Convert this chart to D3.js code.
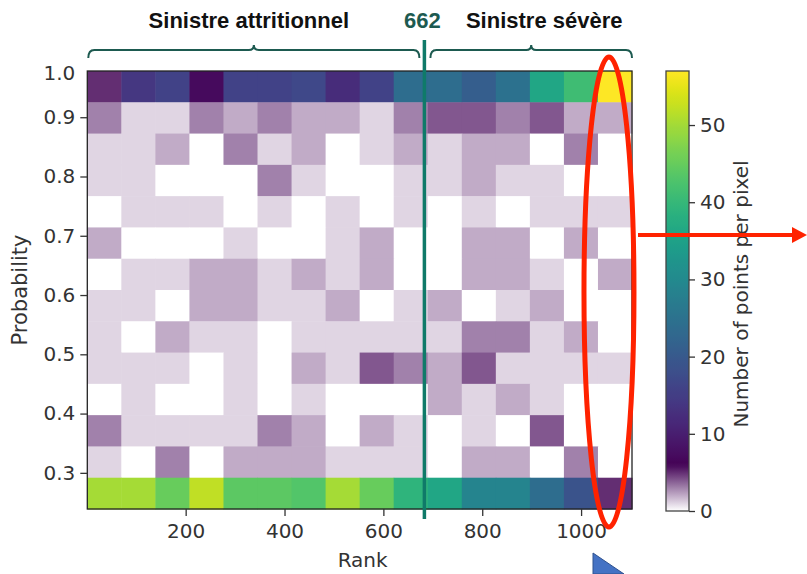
<!DOCTYPE html>
<html>
<head>
<meta charset="utf-8">
<script src="https://cdn.jsdelivr.net/npm/d3@7"></script>
<style>
	html, body { margin: 0; padding: 0; background: #fff; }
	svg { display: block; }
	.tick text { font-family: "DejaVu Sans", sans-serif; }
</style>
</head>
<body>
<div id="chart"></div>
<script>
"use strict";

// 2d histogram: rank (x) vs probability (y), 16 x 14 bins
const rankDomain = [1, 1103];
const probDomain = [0.239, 0.978];
const rankTicks = [200, 400, 600, 800, 1000];
const probTicks = [0.3, 0.4, 0.5, 0.6, 0.7, 0.8, 0.9];
const colorTicks = [0, 10, 20, 30, 40, 50];
const colorMax = 57;

// counts per bin, top row (high probability) first
const counts = [
	[5, 14, 16, 7, 16, 16, 17, 12, 16, 24, 24, 21, 25, 36, 41, 57],
	[3, 1, 1, 3, 2, 3, 2, 2, 1, 3, 4, 4, 3, 4, 2, 2],
	[1, 1, 2, 0, 3, 1, 2, 0, 1, 2, 1, 2, 2, 0, 3, 0],
	[1, 1, 0, 0, 0, 3, 1, 0, 0, 1, 1, 2, 1, 1, 0, 0],
	[0, 1, 1, 1, 0, 1, 0, 1, 0, 1, 0, 1, 0, 1, 1, 1],
	[2, 0, 0, 0, 1, 0, 0, 1, 2, 0, 0, 2, 2, 0, 2, 0],
	[0, 1, 1, 2, 2, 1, 2, 1, 2, 0, 0, 2, 2, 1, 0, 2],
	[1, 1, 0, 2, 2, 1, 1, 2, 0, 1, 2, 0, 1, 2, 0, 0],
	[1, 0, 2, 1, 1, 0, 1, 1, 1, 1, 1, 3, 3, 1, 2, 0],
	[1, 1, 1, 0, 1, 0, 2, 1, 4, 3, 2, 4, 1, 1, 1, 1],
	[0, 1, 0, 0, 1, 0, 1, 0, 0, 0, 2, 1, 2, 1, 0, 0],
	[3, 1, 1, 1, 1, 3, 2, 0, 2, 1, 0, 1, 0, 4, 0, 0],
	[1, 0, 3, 0, 2, 2, 2, 1, 1, 1, 0, 2, 2, 0, 3, 0],
	[50, 50, 45, 52, 44, 44, 43, 50, 45, 39, 36, 29, 29, 24, 19, 5]
];

// annotation on top
const splitRank = 683;
const splitLabel = "662";
const groupLabels = ["Sinistre attritionnel", "Sinistre sévère"];

const W = 807, H = 574;
const plot = { left: 87.3, right: 632, top: 71, bottom: 509 };
const cbar = { left: 666, right: 689, top: 71, bottom: 511 };

const nRows = counts.length, nCols = counts[0].length;

// white -> purple up to ~6, then viridis
const rampEnd = 5.8;
function colorOf(v) {
	if (v <= rampEnd) return d3.interpolateRgb("#ffffff", "#4a0c5c")(v / rampEnd);
	return d3.interpolateViridis((v - rampEnd) / (colorMax - rampEnd));
}

const x = d3.scaleLinear().domain(rankDomain).range([plot.left, plot.right]);
const y = d3.scaleLinear().domain(probDomain).range([plot.bottom, plot.top]);
const c = d3.scaleLinear().domain([0, colorMax]).range([cbar.bottom, cbar.top]);

const svg = d3.select("#chart").append("svg")
	.attr("width", W)
	.attr("height", H);

const xStep = (rankDomain[1] - rankDomain[0]) / nCols;
const yStep = (probDomain[1] - probDomain[0]) / nRows;

const cells = [];
counts.forEach((row, r) => row.forEach((v, ci) => {
	cells.push({
		r0: rankDomain[0] + ci * xStep, r1: rankDomain[0] + (ci + 1) * xStep,
		p1: probDomain[1] - r * yStep, p0: probDomain[1] - (r + 1) * yStep,
		v
	});
}));

svg.append("g")
	.selectAll("rect")
	.data(cells)
	.enter().append("rect")
	.attr("x", d => x(d.r0))
	.attr("y", d => y(d.p1))
	.attr("width", d => x(d.r1) - x(d.r0) + 0.5)
	.attr("height", d => y(d.p0) - y(d.p1) + 0.5)
	.attr("fill", d => colorOf(d.v));

// frame
svg.append("rect")
	.attr("x", plot.left).attr("y", plot.top)
	.attr("width", plot.right - plot.left).attr("height", plot.bottom - plot.top)
	.attr("fill", "none").attr("stroke", "#222").attr("stroke-width", 1.3);

const xAxis = svg.append("g")
	.attr("transform", `translate(0,${plot.bottom})`)
	.call(d3.axisBottom(x).tickValues(rankTicks).tickSize(7).tickPadding(8).tickFormat(d3.format("d")));
const yAxis = svg.append("g")
	.attr("transform", `translate(${plot.left},0)`)
	.call(d3.axisLeft(y).tickValues(probTicks).tickSize(7).tickPadding(5).tickFormat(d3.format(".1f")));

[xAxis, yAxis].forEach(a => {
	a.select(".domain").remove();
	a.selectAll(".tick line").attr("stroke", "#333").attr("stroke-width", 1.3);
	a.selectAll(".tick text").attr("fill", "#333").style("font-size", "20px");
});

// the "1.0" at the top of the axis has no tick
svg.append("text")
	.attr("x", plot.left - 12).attr("y", plot.top + 3)
	.attr("text-anchor", "end").attr("dy", "0.32em")
	.attr("fill", "#333")
	.style("font", "20px 'DejaVu Sans'")
	.text("1.0");

svg.append("text")
	.attr("x", (plot.left + plot.right) / 2 + 3).attr("y", 567)
	.attr("text-anchor", "middle")
	.attr("fill", "#333")
	.style("font", "20px 'DejaVu Sans'")
	.text("Rank");

svg.append("text")
	.attr("transform", `translate(27,${(plot.top + plot.bottom) / 2}) rotate(-90)`)
	.attr("text-anchor", "middle")
	.attr("fill", "#333")
	.style("font", "21px 'DejaVu Sans'")
	.text("Probability");

// colorbar
const grad = svg.append("defs").append("linearGradient")
	.attr("id", "cb").attr("x1", 0).attr("y1", 1).attr("x2", 0).attr("y2", 0);
d3.range(0, 1.0001, 0.01).forEach(t => {
	grad.append("stop").attr("offset", t).attr("stop-color", colorOf(t * colorMax));
});
svg.append("rect")
	.attr("x", cbar.left).attr("y", cbar.top)
	.attr("width", cbar.right - cbar.left).attr("height", cbar.bottom - cbar.top)
	.attr("fill", "url(#cb)").attr("stroke", "#444").attr("stroke-width", 1.3);

const cAxis = svg.append("g")
	.attr("transform", `translate(${cbar.right},0)`)
	.call(d3.axisRight(c).tickValues(colorTicks).tickSize(6).tickPadding(5));
cAxis.select(".domain").remove();
cAxis.selectAll(".tick line").attr("stroke", "#333").attr("stroke-width", 1.3);
cAxis.selectAll(".tick text").attr("fill", "#333").style("font-size", "20px");

svg.append("text")
	.attr("transform", `translate(748,${(cbar.top + cbar.bottom) / 2 + 3}) rotate(-90)`)
	.attr("text-anchor", "middle")
	.attr("fill", "#333")
	.style("font", "20px 'DejaVu Sans'")
	.text("Number of points per pixel");

// split annotation
const teal = "#0f7a69";
const braceCol = "#1d5a50";
const sx = x(splitRank);
svg.append("line")
	.attr("x1", sx).attr("x2", sx).attr("y1", 40).attr("y2", 519)
	.attr("stroke", teal).attr("stroke-width", 3.5);

function brace(x0, x1, yb) {
	const m = (x0 + x1) / 2;
	return `M${x0},${yb + 8} Q${x0},${yb} ${x0 + 6},${yb} L${m - 5},${yb} Q${m},${yb} ${m},${yb - 5} Q${m},${yb} ${m + 5},${yb} L${x1 - 6},${yb} Q${x1},${yb} ${x1},${yb + 8}`;
}
const braces = [[plot.left + 1, sx - 5], [sx + 6, plot.right]];
svg.selectAll(".brace")
	.data(braces)
	.enter().append("path")
	.attr("class", "brace")
	.attr("d", d => brace(d[0], d[1], 50))
	.attr("fill", "none").attr("stroke", braceCol).attr("stroke-width", 2);

svg.selectAll(".glabel")
	.data(groupLabels)
	.enter().append("text")
	.attr("class", "glabel")
	.attr("x", (d, i) => (braces[i][0] + braces[i][1]) / 2 + (i === 0 ? -5 : 13))
	.attr("y", 28)
	.attr("text-anchor", "middle")
	.style("font", "bold 22px 'Liberation Sans', Arial, sans-serif")
	.attr("fill", "#111")
	.text(d => d);

svg.append("text")
	.attr("x", sx - 2).attr("y", 28)
	.attr("text-anchor", "middle")
	.style("font", "bold 22px 'Liberation Sans', Arial, sans-serif")
	.attr("fill", braceCol)
	.text(splitLabel);

// red highlight around the last column, arrow to the colorbar
const red = "#ff2200";
const lastCol = x(rankDomain[1] - xStep / 2);
svg.append("ellipse")
	.attr("cx", lastCol - 6).attr("cy", 292)
	.attr("rx", 25).attr("ry", 235)
	.attr("fill", "none").attr("stroke", red).attr("stroke-width", 5);

svg.append("line")
	.attr("x1", 638).attr("x2", 795).attr("y1", 235).attr("y2", 235)
	.attr("stroke", red).attr("stroke-width", 4);
svg.append("path")
	.attr("d", "M807,235 L792,227 L792,243 Z")
	.attr("fill", red);

// blue shape at the bottom edge
svg.append("path")
	.attr("d", "M593,553 L624,574 L593,574 Z")
	.attr("fill", "#4472c4").attr("stroke", "#2f528f").attr("stroke-width", 1);
</script>
</body>
</html>
